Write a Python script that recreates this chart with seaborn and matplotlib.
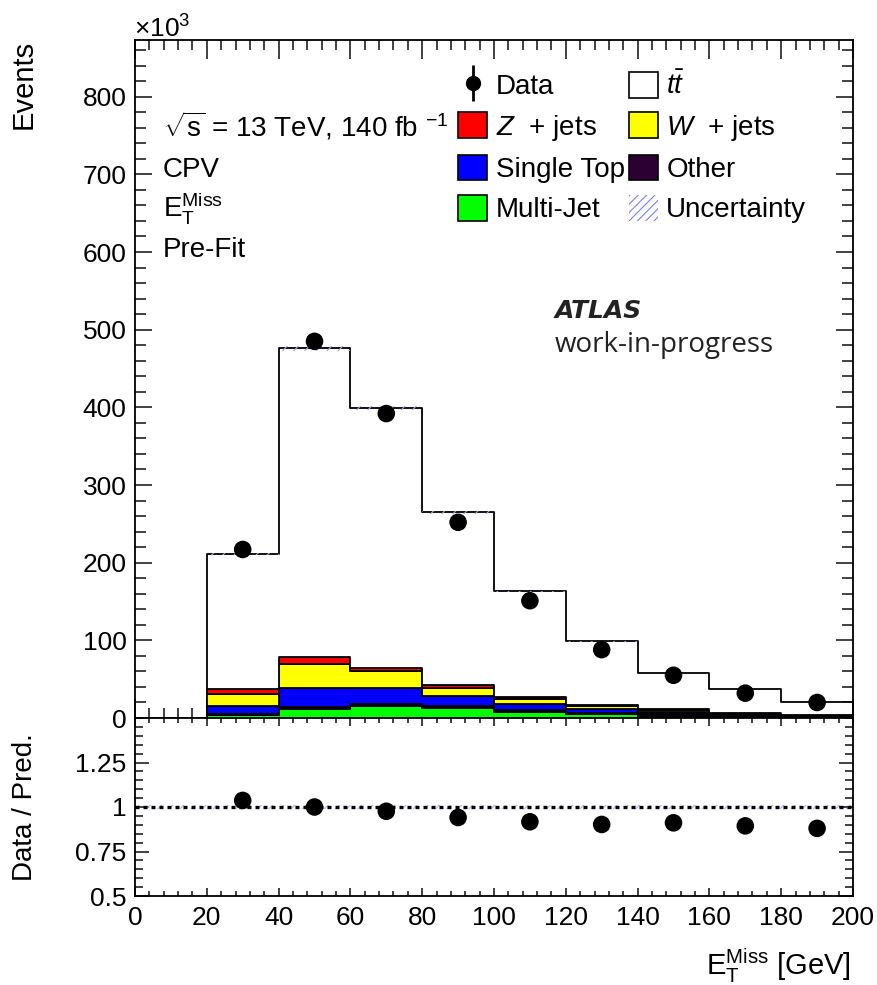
import numpy as np
import pandas as pd
import matplotlib
matplotlib.use("Agg")
import matplotlib.pyplot as plt
import seaborn as sns
from matplotlib.ticker import MultipleLocator, FixedLocator, FuncFormatter
from matplotlib.patches import Patch
from matplotlib.lines import Line2D
from matplotlib.legend_handler import HandlerTuple

# ---------------- data (Events in units of 10^3) ----------------
bin_edges = [20, 40, 60, 80, 100, 120, 140, 160, 180, 200]
bin_centers = [30, 50, 70, 90, 110, 130, 150, 170, 190]

ttbar = [174, 397, 334, 222, 136, 82, 47, 30, 17.7]
z_jets = [6, 10, 4, 4, 2, 1, 0.5, 0.5, 0.3]
w_jets = [15, 30, 23, 11, 7, 5, 2.5, 1.5, 0.5]
single_top = [11, 25, 20, 13, 8, 5, 3, 2, 1]
other = [1, 2, 2, 2, 2, 1, 2, 1, 0.5]
multi_jet = [4, 12, 16, 13, 8, 5, 3, 2, 1]

data_events = [217, 485, 392, 252, 151, 88, 55, 32, 20]
ratio_vals = [1.037, 1.0, 0.976, 0.941, 0.917, 0.902, 0.911, 0.894, 0.88]

proc_names = ["ttbar", "Z+jets", "W+jets", "Single Top", "Other", "Multi-Jet"]  # top -> bottom
proc_values = [ttbar, z_jets, w_jets, single_top, other, multi_jet]
proc_colors = ["#ffffff", "#ff0000", "#ffff00", "#0000ff", "#2d0033", "#00ff00"]

rows = []
for name, vals in zip(proc_names, proc_values):
    for c, v in zip(bin_centers, vals):
        rows.append({"x": c, "w": v, "proc": name})
df = pd.DataFrame(rows)
palette = dict(zip(proc_names, proc_colors))

# ---------------- style ----------------
sns.set_theme(style="ticks")
plt.rcParams["font.family"] = ["Liberation Sans", "DejaVu Sans"]
plt.rcParams["mathtext.fontset"] = "custom"
plt.rcParams["mathtext.rm"] = "Liberation Sans"
plt.rcParams["mathtext.it"] = "Liberation Sans:italic"
plt.rcParams["mathtext.bf"] = "Liberation Sans:bold"
plt.rcParams["mathtext.sf"] = "Liberation Sans"
plt.rcParams["hatch.linewidth"] = 0.8
plt.rcParams["axes.linewidth"] = 1.3
plt.rcParams["axes.edgecolor"] = "black"
plt.rcParams["text.color"] = "black"
plt.rcParams["axes.labelcolor"] = "black"
plt.rcParams["xtick.color"] = "black"
plt.rcParams["ytick.color"] = "black"
plt.rcParams["xtick.labelcolor"] = "black"
plt.rcParams["ytick.labelcolor"] = "black"

W, H = 877, 985
fig = plt.figure(figsize=(W / 100, H / 100), dpi=100)
fx = lambda px: px / W
fy = lambda py: 1 - py / H

left, right = 135, 853
top_main, split, bot_ratio = 40, 718, 896
ax = fig.add_axes([fx(left), fy(split), fx(right) - fx(left), fy(top_main) - fy(split)])
ax2 = fig.add_axes([fx(left), fy(bot_ratio), fx(right) - fx(left), fy(split) - fy(bot_ratio)], sharex=ax)

# ---------------- main panel ----------------
sns.histplot(data=df, x="x", weights="w", hue="proc", hue_order=proc_names,
             multiple="stack", bins=bin_edges, element="step", fill=True,
             palette=palette, alpha=1, edgecolor="black", linewidth=1.3,
             legend=False, ax=ax)

total = np.sum(np.array(proc_values), axis=0)
edges_ext = np.array(bin_edges)
tot_ext = np.append(total, total[-1])
ax.fill_between(edges_ext, tot_ext * 0.993, tot_ext * 1.007, step="post",
                facecolor="none", edgecolor="#a0a0ff", hatch="///", linewidth=0, zorder=3)

sns.scatterplot(x=bin_centers, y=data_events, color="black", s=160,
                edgecolor="none", ax=ax, zorder=5, legend=False)

ax.set_xlim(0, 200)
ax.set_ylim(0, 873)
ax.set_xlabel("")
ax.set_ylabel("Events", fontsize=21, loc="top")
ax.xaxis.set_major_locator(MultipleLocator(20))
ax.xaxis.set_minor_locator(MultipleLocator(4))
ax.yaxis.set_major_locator(MultipleLocator(100))
ax.yaxis.set_minor_locator(MultipleLocator(20))
ax.tick_params(axis="both", which="both", direction="in", top=True, right=True,
               labelbottom=False, labelsize=19, width=1.3, color="#333333", labelcolor="black")
ax.tick_params(axis="x", which="major", length=14)
ax.tick_params(axis="x", which="minor", length=7)
ax.tick_params(axis="y", which="major", length=12, pad=6)
ax.tick_params(axis="y", which="minor", length=8)

# ---------------- ratio panel ----------------
ax2.fill_between([0, 200], [0.99, 0.99], [1.01, 1.01], facecolor="none",
                 edgecolor="#b0b0ff", hatch="///", linewidth=0, zorder=1)
ax2.axhline(1.0, color="black", linestyle=(0, (1.2, 1.2)), linewidth=2.4, zorder=2)
sns.scatterplot(x=bin_centers, y=ratio_vals, color="black", s=160,
                edgecolor="none", ax=ax2, zorder=5, legend=False)
ax2.set_ylim(0.5, 1.5)
ax2.set_xlim(0, 200)
ax2.yaxis.set_major_locator(FixedLocator([0.5, 0.75, 1.0, 1.25]))
ax2.yaxis.set_minor_locator(MultipleLocator(0.05))
ax2.yaxis.set_major_formatter(FuncFormatter(lambda v, p: f"{v:g}"))
ax2.xaxis.set_major_locator(MultipleLocator(20))
ax2.xaxis.set_minor_locator(MultipleLocator(4))
ax2.tick_params(axis="both", which="both", direction="in", top=True, right=True,
                labelsize=19, width=1.3, color="#333333", labelcolor="black")
ax2.tick_params(axis="x", which="major", length=6, pad=7)
ax2.tick_params(axis="x", which="minor", length=3.5)
ax2.tick_params(axis="y", which="major", length=10, pad=6)
ax2.tick_params(axis="y", which="minor", length=6)
ax2.set_xlabel("")
ax2.set_ylabel("Data / Pred.", fontsize=20)
ax.yaxis.set_label_coords(-0.135, 1.0)
ax2.yaxis.set_label_coords(-0.135, 0.5)

# ---------------- texts ----------------
fig.text(fx(134), fy(38), r"$\times10^{3}$", fontsize=19, ha="left", va="baseline")
fig.text(fx(163), fy(137), r"$\sqrt{\mathrm{s}}$ = 13 TeV, 140 fb $^{-1}$", fontsize=20, ha="left", va="baseline")
fig.text(fx(163), fy(177), "CPV", fontsize=20, ha="left", va="baseline")
fig.text(fx(163), fy(217), r"$\mathrm{E}_{\mathrm{T}}^{\mathrm{Miss}}$", fontsize=20, ha="left", va="baseline")
fig.text(fx(163), fy(257), "Pre-Fit", fontsize=20, ha="left", va="baseline")
fig.text(fx(555), fy(311), "ATLAS", fontsize=18, ha="left", va="center",
         family=["DejaVu Sans"], weight="bold", style="oblique", color="#222222")
fig.text(fx(555), fy(345), "work-in-progress", fontsize=20, ha="left", va="center",
         family=["Open Sans", "Noto Sans", "DejaVu Sans"], color="#222222")
fig.text(fx(851), fy(975), r"$\mathrm{E}_{\mathrm{T}}^{\mathrm{Miss}}$ [GeV]", fontsize=21, ha="right", va="baseline")

# ---------------- legend ----------------
data_handle = (Line2D([], [], marker="o", ls="none", color="black", ms=10),
               Line2D([], [], marker="|", ls="none", color="black", ms=26, mew=2))
def box(c):
    return Patch(facecolor=c, edgecolor="black", linewidth=1.2)
handles = [data_handle, box("#ff0000"), box("#0000ff"), box("#00ff00"),
           box("#ffffff"), box("#ffff00"), box("#2d0033"),
           Patch(facecolor="none", edgecolor="#7c7cff", hatch="////", linewidth=0)]
labels = ["Data", r"$Z$  + jets", "Single Top", "Multi-Jet",
          r"$t\bar{t}$", r"$W$  + jets", "Other", "Uncertainty"]
fig.legend(handles, labels, ncol=2, loc="upper left",
           bbox_to_anchor=(fx(458), fy(72)), bbox_transform=fig.transFigure,
           frameon=False, fontsize=20, handlelength=1.05, handleheight=1.05,
           handletextpad=0.3, labelspacing=0.43, columnspacing=0.15,
           borderpad=0, borderaxespad=0,
           handler_map={tuple: HandlerTuple(ndivide=1, pad=0)})

fig.savefig("out.png", dpi=100)
